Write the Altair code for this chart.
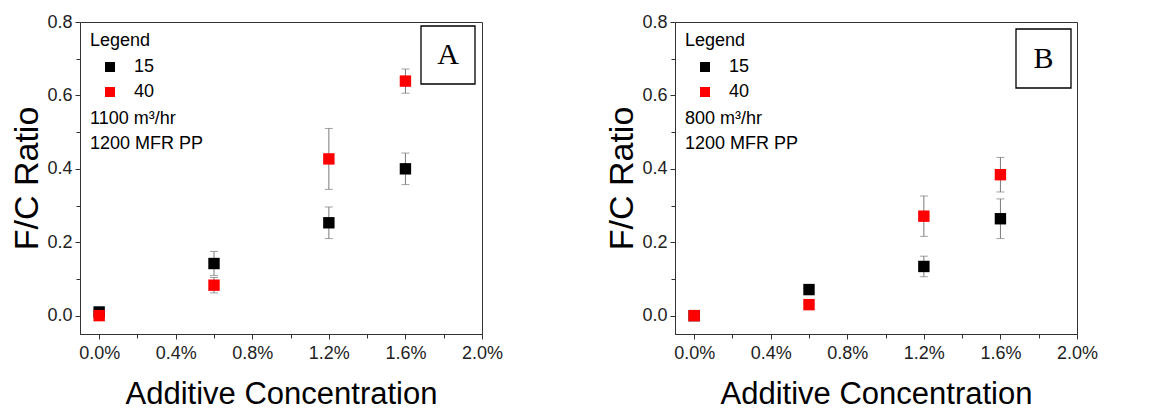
import altair as alt
import pandas as pd

# ---- data ----
conc = [0.0, 0.006, 0.012, 0.016]
series = ["15", "40"]

a_15 = [0.010, 0.142, 0.253, 0.400]
a_15_err = [0.0, 0.033, 0.043, 0.043]
a_40 = [0.000, 0.083, 0.427, 0.639]
a_40_err = [0.0, 0.021, 0.083, 0.033]

b_15 = [0.000, 0.071, 0.134, 0.264]
b_15_err = [0.0, 0.0, 0.028, 0.054]
b_40 = [0.000, 0.030, 0.271, 0.384]
b_40_err = [0.0, 0.0, 0.055, 0.047]

x_ticks = [0.0, 0.002, 0.004, 0.006, 0.008, 0.010, 0.012, 0.014, 0.016, 0.018, 0.020]
y_ticks = [0.0, 0.1, 0.2, 0.3, 0.4, 0.5, 0.6, 0.7, 0.8]

FONT = "Liberation Sans"
W, H = 402, 312


def make_df(v15, e15, v40, e40):
    rows = []
    for s, vals, errs in (("15", v15, e15), ("40", v40, e40)):
        for c, v, e in zip(conc, vals, errs):
            rows.append({"conc": c, "val": v, "err": e, "series": s,
                         "lo": v - e, "hi": v + e})
    return pd.DataFrame(rows)


def panel(df, letter, flow_text, box_pos):
    xs = alt.Scale(domain=[-0.001, 0.02], nice=False, zero=False)
    ys = alt.Scale(domain=[-0.05, 0.8], nice=False, zero=False)

    x_axis = alt.Axis(
        values=x_ticks,
        labelExpr="round(datum.value*1000) % 4 == 0 ? format(datum.value, '.1%') : ''",
        tickSize={"condition": {"test": "round(datum.value*1000) % 4 == 0", "value": 5}, "value": 4},
        title="Additive Concentration", titleFontSize=31, titleFontWeight="normal",
        titlePadding=17, labelFontSize=18, labelPadding=5, grid=False,
        labelFlush=False, labelOverlap=False,
    )
    y_axis = alt.Axis(
        values=y_ticks,
        labelExpr="round(datum.value*10) % 2 == 0 ? format(datum.value, '.1f') : ''",
        tickSize={"condition": {"test": "round(datum.value*10) % 2 == 0", "value": 5}, "value": 4},
        title="F/C Ratio", titleFontSize=34, titleFontWeight="normal",
        titlePadding=2, labelFontSize=18, labelPadding=3, grid=False,
        labelFlush=False, labelOverlap=False,
    )

    base = alt.Chart(df)
    err_df = df[df["err"] > 0]
    ebase = alt.Chart(err_df)

    X = alt.X("conc:Q", scale=xs, axis=x_axis)

    rules = ebase.mark_rule(color="#7a7a7a", strokeWidth=1).encode(
        x=X,
        y=alt.Y("lo:Q", scale=ys, axis=y_axis),
        y2="hi:Q",
    )
    cap_lo = ebase.mark_tick(color="#7a7a7a", orient="horizontal", size=8, thickness=1).encode(
        x=X,
        y=alt.Y("lo:Q", scale=ys, axis=y_axis),
    )
    cap_hi = ebase.mark_tick(color="#7a7a7a", orient="horizontal", size=8, thickness=1).encode(
        x=X,
        y=alt.Y("hi:Q", scale=ys, axis=y_axis),
    )
    points = base.mark_square(size=130, opacity=1).encode(
        x=X,
        y=alt.Y("val:Q", scale=ys, axis=y_axis),
        color=alt.Color(
            "series:N",
            scale=alt.Scale(domain=series, range=["#000000", "#ff0000"]),
            legend=alt.Legend(
                title="Legend", orient="none", legendX=10, legendY=10,
                titleFontSize=18, titleFontWeight="normal", titleFont=FONT,
                labelFontSize=18, labelFont=FONT, symbolType="square",
                symbolSize=100, symbolStrokeWidth=0, symbolOffset=11,
                labelOffset=15, rowPadding=7, titlePadding=8,
            ),
        ),
        order=alt.Order("series:N"),
    )

    txt_df = pd.DataFrame({"t": [0]})
    note1 = alt.Chart(txt_df).mark_text(
        text=flow_text[0], align="left", baseline="middle", fontSize=18,
        font=FONT, color="#000000",
    ).encode(x=alt.value(10), y=alt.value(97))
    note2 = alt.Chart(txt_df).mark_text(
        text=flow_text[1], align="left", baseline="middle", fontSize=18,
        font=FONT, color="#000000",
    ).encode(x=alt.value(10), y=alt.value(122))
    bx0, bx1, by0, by1 = box_pos
    box = alt.Chart(txt_df).mark_rect(fill="white", stroke="black", strokeWidth=1.3).encode(
        x=alt.value(bx0), x2=alt.value(bx1), y=alt.value(by0), y2=alt.value(by1)
    )
    box_txt = alt.Chart(txt_df).mark_text(
        text=letter, fontSize=30, font="Liberation Serif", align="center",
        baseline="middle", color="black",
    ).encode(x=alt.value((bx0 + bx1) / 2), y=alt.value((by0 + by1) / 2))

    return alt.layer(rules, cap_lo, cap_hi, points, note1, note2, box, box_txt).properties(
        width=W, height=H
    )


df_a = make_df(a_15, a_15_err, a_40, a_40_err)
df_b = make_df(b_15, b_15_err, b_40, b_40_err)

pa = panel(df_a, "A", ["1100 m³/hr", "1200 MFR PP"], (341, 395, 4, 62))
pb = panel(df_b, "B", ["800 m³/hr", "1200 MFR PP"], (341, 396, 7, 66))

chart = alt.hconcat(pa, pb, spacing=193, bounds="flush").resolve_scale(
    color="independent"
).resolve_legend(color="independent").properties(
    padding={"left": 10, "top": 12, "right": 0, "bottom": 0},
    background="white",
).configure_view(stroke="#333333", strokeWidth=1).configure_axis(
    domainColor="#333333", tickColor="#333333", labelColor="#222222",
    titleColor="#000000", labelFont=FONT, titleFont=FONT,
).configure_text(font=FONT)

chart.save("out.html", embed_options={"renderer": "svg", "actions": False})
